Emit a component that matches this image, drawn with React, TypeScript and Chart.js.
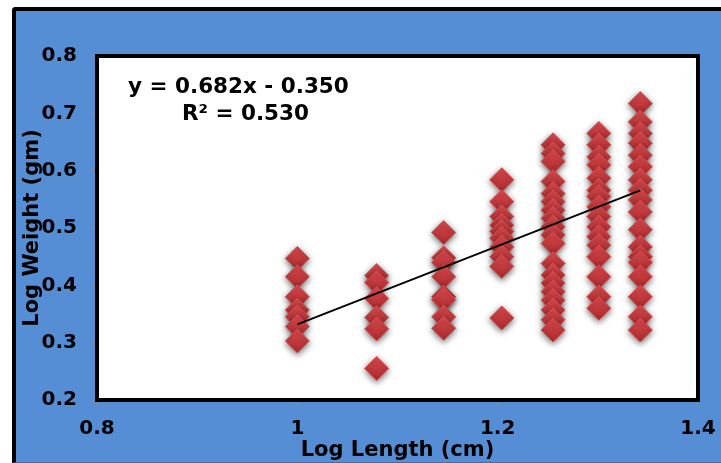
import React, { useEffect, useRef } from "react";
import { Chart, registerables } from "chart.js";

Chart.register(...registerables);

// Log length (cm) groups: log10 of 10, 12, 14, 16, 18, 20, 22 cm
const lengthLogs = [1.0, 1.0792, 1.1461, 1.2041, 1.2553, 1.301, 1.3424];

// Log weight (gm) observations per length group
const weights10 = [0.447, 0.415, 0.38, 0.357, 0.345, 0.328, 0.303];
const weights12 = [0.417, 0.405, 0.377, 0.344, 0.324, 0.255];
const weights14 = [0.492, 0.448, 0.44, 0.415, 0.38, 0.375, 0.345, 0.325];
const weights16 = [0.584, 0.546, 0.52, 0.505, 0.494, 0.482, 0.467, 0.45, 0.433, 0.343];
const weights18 = [
  0.645, 0.63, 0.616, 0.581, 0.56, 0.546, 0.531, 0.517, 0.502, 0.488, 0.473,
  0.438, 0.418, 0.404, 0.389, 0.374, 0.357, 0.34, 0.322,
];
const weights20 = [
  0.665, 0.645, 0.624, 0.61, 0.587, 0.566, 0.555, 0.537, 0.52, 0.502, 0.485,
  0.47, 0.45, 0.415, 0.38, 0.36,
];
const weights22 = [
  0.717, 0.685, 0.665, 0.648, 0.627, 0.607, 0.584, 0.566, 0.549, 0.528, 0.497,
  0.467, 0.45, 0.44, 0.415, 0.38, 0.345, 0.322,
];
const weightGroups = [weights10, weights12, weights14, weights16, weights18, weights20, weights22];

// Linear trend line (from the chart's equation)
const slope = 0.682;
const intercept = -0.35;
const rSquared = 0.53;
const trendX = [1.0, 1.3424];

// Axes
const xMin = 0.8;
const xMax = 1.4;
const xStep = 0.2;
const yMin = 0.2;
const yMax = 0.8;
const yStep = 0.1;
const xTitle = "Log Length (cm)";
const yTitle = "Log Weight (gm)";
const equationLines = [
  `y = ${slope.toFixed(3)}x - ${Math.abs(intercept).toFixed(3)}`,
  `R² = ${rSquared.toFixed(3)}`,
];

const FONT = '"DejaVu Sans", Verdana, sans-serif';
const fmtTick = (v: any) => String(Number(Number(v).toFixed(2)));

export default function App() {
  const canvasRef = useRef<HTMLCanvasElement | null>(null);

  useEffect(() => {
    const canvas = canvasRef.current;
    if (!canvas) return;

    const points: { x: number; y: number }[] = [];
    weightGroups.forEach((group, i) => {
      group.forEach((w) => points.push({ x: lengthLogs[i], y: w }));
    });
    const trend = trendX.map((x) => ({ x, y: slope * x + intercept }));

    const plotFrame = {
      id: "plotFrame",
      beforeDraw(chart: any) {
        const { ctx, chartArea } = chart;
        ctx.save();
        ctx.fillStyle = "#ffffff";
        ctx.fillRect(chartArea.left, chartArea.top, chartArea.right - chartArea.left, chartArea.bottom - chartArea.top);
        ctx.restore();
      },
      afterDraw(chart: any) {
        const { ctx, chartArea } = chart;
        ctx.save();
        ctx.strokeStyle = "#000000";
        ctx.lineWidth = 4;
        ctx.strokeRect(chartArea.left, chartArea.top, chartArea.right - chartArea.left, chartArea.bottom - chartArea.top);
        ctx.fillStyle = "#000000";
        ctx.font = `bold 21.5px ${FONT}`;
        ctx.textBaseline = "middle";
        ctx.textAlign = "left";
        ctx.fillText(equationLines[0], chartArea.left + 31, chartArea.top + 31);
        ctx.fillText(equationLines[1], chartArea.left + 85, chartArea.top + 58);
        ctx.restore();
      },
    };

    const shadow = {
      id: "pointShadow",
      beforeDatasetDraw(chart: any, args: any) {
        if (args.index !== 1) return;
        const ctx = chart.ctx;
        ctx.save();
        ctx.shadowColor = "rgba(0,0,0,0.55)";
        ctx.shadowBlur = 6;
        ctx.shadowOffsetX = 0;
        ctx.shadowOffsetY = 2;
      },
      afterDatasetDraw(chart: any, args: any) {
        if (args.index !== 1) return;
        chart.ctx.restore();
      },
    };

    const chart = new Chart(canvas, {
      type: "scatter",
      data: {
        datasets: [
          {
            type: "line",
            label: "Trend",
            data: trend,
            borderColor: "#000000",
            borderWidth: 2,
            pointRadius: 0,
            fill: false,
            order: 0,
          } as any,
          {
            label: "Log Weight",
            data: points,
            pointStyle: "rectRot",
            pointRadius: 12,
            pointHoverRadius: 12,
            borderWidth: 1,
            borderColor: "#D64A4C",
            backgroundColor: (c: any) => {
              const fallback = "#C63B3D";
              if (c.type !== "data" || !c.parsed) return fallback;
              const ys = c.chart.scales && c.chart.scales.y;
              if (!ys) return fallback;
              const py = ys.getPixelForValue(c.parsed.y);
              if (!Number.isFinite(py)) return fallback;
              const g = c.chart.ctx.createLinearGradient(0, py - 12, 0, py + 12);
              g.addColorStop(0, "#DC4B4E");
              g.addColorStop(1, "#AC2A2E");
              return g;
            },
            order: 1,
          } as any,
        ],
      },
      options: {
        animation: false,
        responsive: false,
        maintainAspectRatio: false,
        layout: { padding: { left: 0, right: 23, top: 56, bottom: 0 } },
        plugins: { legend: { display: false }, tooltip: { enabled: false } },
        scales: {
          x: {
            type: "linear",
            min: xMin,
            max: xMax,
            afterFit(scale: any) {
              scale.height = 63;
              scale.paddingLeft = 0;
              scale.paddingRight = 0;
            },
            ticks: {
              stepSize: xStep,
              padding: 11,
              color: "#000000",
              font: { family: FONT, size: 20, weight: "bold" },
              callback: fmtTick,
            },
            grid: {
              display: true,
              drawOnChartArea: false,
              drawTicks: true,
              tickLength: 6,
              color: "#8a8a8a",
              lineWidth: 1.5,
            },
            border: { display: false },
            title: {
              display: true,
              text: xTitle,
              color: "#000000",
              font: { family: FONT, size: 21, weight: "bold" },
              padding: { top: 0, bottom: 0 },
            },
          },
          y: {
            type: "linear",
            min: yMin,
            max: yMax,
            afterFit(scale: any) {
              scale.width = 97;
            },
            ticks: {
              stepSize: yStep,
              padding: 14,
              color: "#000000",
              font: { family: FONT, size: 20, weight: "bold" },
              callback: fmtTick,
            },
            grid: {
              display: true,
              drawOnChartArea: false,
              drawTicks: true,
              tickLength: 6,
              color: "#8a8a8a",
              lineWidth: 1.5,
            },
            border: { display: false },
            title: {
              display: true,
              text: yTitle,
              color: "#000000",
              font: { family: FONT, size: 21, weight: "bold" },
              padding: { top: 20, bottom: 0 },
            },
          },
        },
      } as any,
      plugins: [plotFrame, shadow],
    });

    return () => chart.destroy();
  }, []);

  return (
    <div style={{ position: "fixed", left: 0, top: 0, width: 721, height: 463, background: "#ffffff", overflow: "hidden" }}>
      <div
        style={{
          position: "absolute",
          left: 12,
          top: 7,
          right: 0,
          bottom: 0,
          background: "#558ED5",
          borderLeft: "4px solid #000",
          borderTop: "4px solid #000",
          borderBottom: "1px solid #3d6eae",
          borderTopLeftRadius: 4,
        }}
      />
      <canvas
        ref={canvasRef}
        width={721}
        height={463}
        style={{ position: "absolute", left: 0, top: 0, width: 721, height: 463 }}
      />
    </div>
  );
}
